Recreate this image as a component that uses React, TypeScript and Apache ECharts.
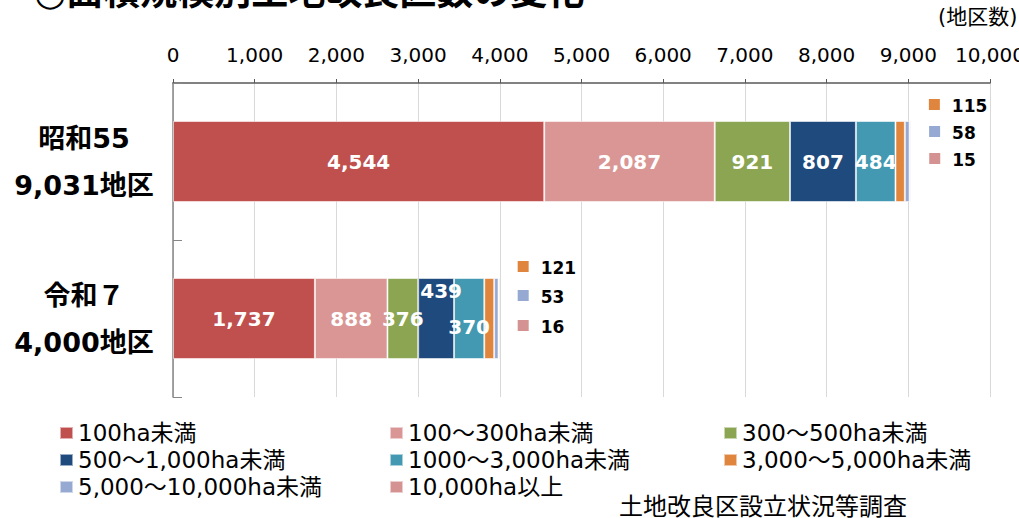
import React, { useEffect, useRef } from 'react';
import * as echarts from 'echarts';

const categories = ['昭和55', '令和７'];
const seriesNames = [
  '100ha未満',
  '100～300ha未満',
  '300～500ha未満',
  '500～1,000ha未満',
  '1000～3,000ha未満',
  '3,000～5,000ha未満',
  '5,000～10,000ha未満',
  '10,000ha以上',
];
const showa55 = [4544, 2087, 921, 807, 484, 115, 58, 15];
const reiwa7 = [1737, 888, 376, 439, 370, 121, 53, 16];
const xMin = 0;
const xMax = 10000;
const xInterval = 1000;
const titleText = '○面積規模別土地改良区数の変化';
const unitText = '(地区数)';
const sourceText = '土地改良区設立状況等調査';

const colors = ['#C0504D', '#DA9694', '#8BA552', '#1F4A7D', '#4399B1', '#E0853E', '#95A9D2', '#D49292'];

const FONT = "'DejaVu Sans', 'Noto Sans CJK JP', sans-serif";

const fmt = (v: number) => v.toLocaleString('en-US');

// label offsets for the in-bar labels [row][series]
const innerOffsets: Record<string, [number, number]> = {
  '1-3': [5, -28],
  '1-4': [0, 8],
};
// offsets for the small segments legend-like labels (position 'right')
const smallOffsets: Record<string, [number, number]> = {
  '0-5': [19, -57],
  '0-6': [14.5, -30],
  '0-7': [13.4, -3],
  '1-5': [18.5, -52],
  '1-6': [14.2, -23],
  '1-7': [12.9, 7],
};

export default function App() {
  const ref = useRef<HTMLDivElement>(null);
  useEffect(() => {
    if (!ref.current) return;
    const chart = echarts.init(ref.current, undefined, { renderer: 'svg' });
    const rows = [showa55, reiwa7];
    const totals = rows.map((r) => r.reduce((a, b) => a + b, 0));
    const catLabels = categories.map((c, i) => `${c}\n${fmt(totals[i])}地区`);

    const series = seriesNames.map((name, si) => ({
      name,
      type: 'bar',
      stack: 'total',
      barWidth: 81,
      itemStyle: { color: colors[si], borderColor: 'rgba(255,255,255,0.55)', borderWidth: 1 },
      data: rows.map((r, ri) => {
        const key = `${ri}-${si}`;
        if (si < 5) {
          return {
            value: r[si],
            label: {
              show: true,
              position: 'inside',
              offset: innerOffsets[key] || [0, 0],
              formatter: (p: any) => fmt(p.value),
              color: '#fff',
              fontFamily: FONT,
              fontWeight: 'bold',
              fontSize: 20,
            },
          };
        }
        return {
          value: r[si],
          label: {
            show: true,
            position: 'right',
            distance: 5,
            offset: smallOffsets[key] || [0, 0],
            formatter: (p: any) => `{sq| }{v|${fmt(p.value)}}`,
            rich: {
              sq: { width: 11, height: 11, backgroundColor: colors[si], verticalAlign: 'middle' },
              v: {
                fontSize: 17,
                fontWeight: 'bold',
                color: '#000',
                fontFamily: FONT,
                padding: [3, 0, 0, 12],
              },
            },
          },
        };
      }),
    }));

    const legendBase = {
      orient: 'vertical',
      top: 421,
      padding: 0,
      itemWidth: 13,
      itemHeight: 12,
      itemGap: 3,
      icon: 'rect',
      textStyle: { fontFamily: FONT, fontSize: 23, lineHeight: 24, color: '#000' },
    };

    chart.setOption({
      animation: false,
      backgroundColor: '#fff',
      grid: { left: 173, right: 29, top: 83, bottom: 121, containLabel: false, outerBoundsMode: 'none' },
      legend: [
        { ...legendBase, left: 59, data: [seriesNames[0], seriesNames[3], seriesNames[6]] },
        { ...legendBase, left: 389, data: [seriesNames[1], seriesNames[4], seriesNames[7]] },
        { ...legendBase, left: 723, data: [seriesNames[2], seriesNames[5]] },
      ],
      xAxis: {
        type: 'value',
        position: 'top',
        min: xMin,
        max: xMax,
        interval: xInterval,
        axisLine: { show: true, lineStyle: { color: '#595959', width: 1.5 } },
        axisTick: { show: true, length: 4, lineStyle: { color: '#595959' } },
        axisLabel: {
          formatter: (v: number) => fmt(v),
          fontFamily: FONT,
          fontSize: 20,
          color: '#000',
          margin: 18,
        },
        splitLine: { show: true, lineStyle: { color: '#D9D9D9', width: 1 } },
      },
      yAxis: {
        type: 'category',
        inverse: true,
        data: catLabels,
        axisLine: { show: true, lineStyle: { color: '#868686', width: 1.5 } },
        axisTick: { show: true, inside: true, length: 9, lineStyle: { color: '#868686' } },
        axisLabel: {
          fontFamily: FONT,
          fontWeight: 'bold',
          fontSize: 27,
          lineHeight: 47,
          color: '#000',
          align: 'center',
          margin: 89,
        },
        splitLine: { show: false },
      },
      graphic: [
        {
          type: 'text',
          left: 34,
          top: -26,
          style: { text: titleText, fontFamily: FONT, fontWeight: 'bold', fontSize: 37, fill: '#000' },
        },
        {
          type: 'text',
          left: 938,
          top: 6,
          style: { text: unitText, fontFamily: FONT, fontSize: 21, fill: '#000' },
        },
        {
          type: 'text',
          left: 619,
          top: 495,
          style: { text: sourceText, fontFamily: FONT, fontSize: 24, fill: '#000' },
        },
      ],
      series,
    } as any);
    return () => chart.dispose();
  }, []);
  return (
    <div
      ref={ref}
      style={{ position: 'absolute', left: 0, top: 0, width: 1019, height: 518 }}
    />
  );
}
